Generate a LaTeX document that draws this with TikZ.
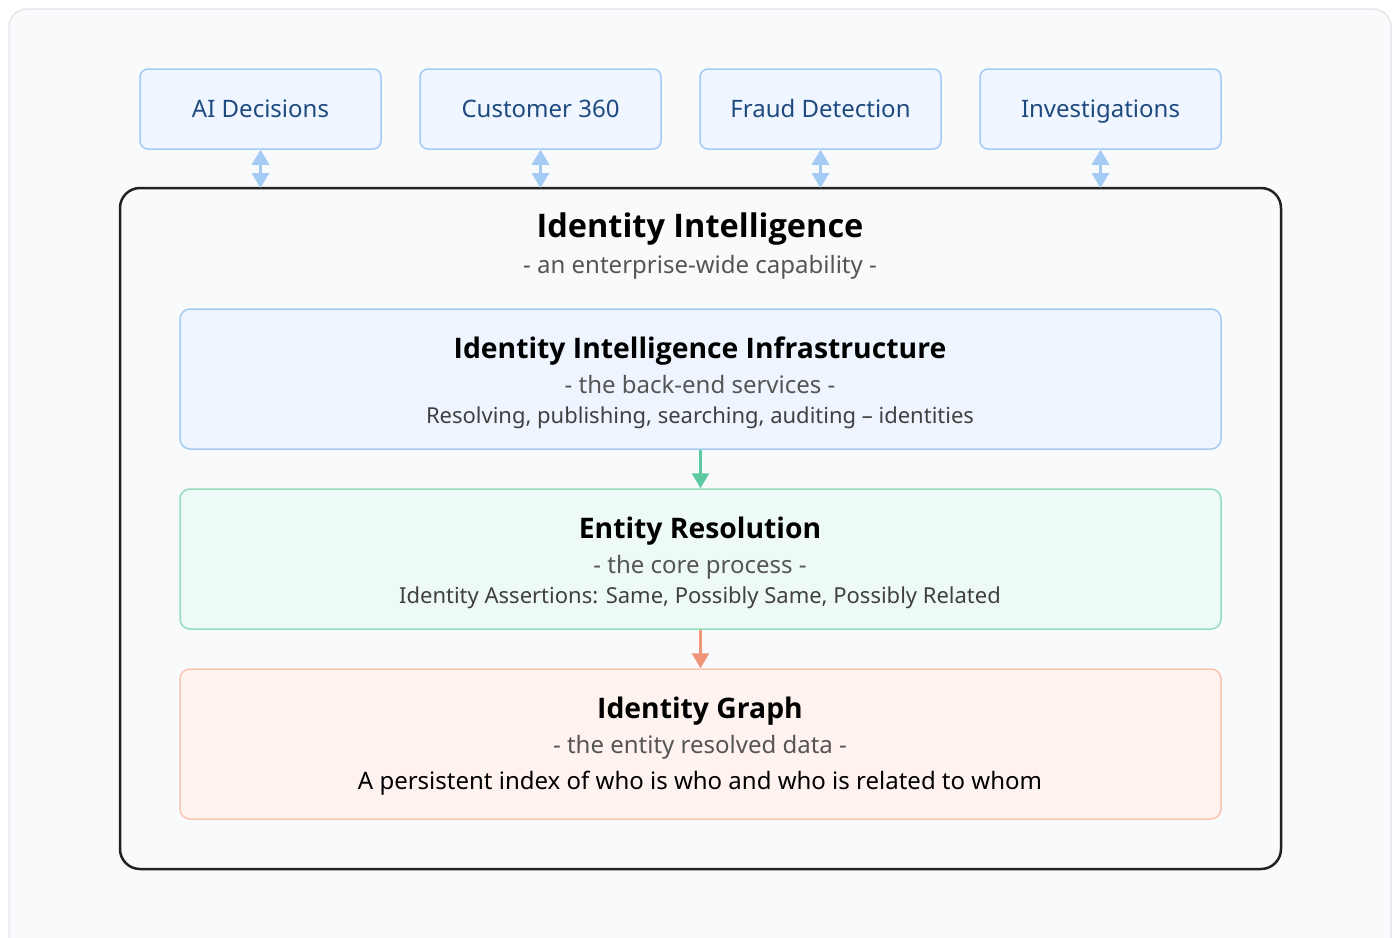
\documentclass[tikz,border=0pt]{standalone}
\usepackage{fontspec}
\setmainfont{Noto Sans}
\newfontfamily\titlefam{Open Sans}
\usetikzlibrary{arrows.meta}
\definecolor{bgfill}{HTML}{F8FAFC}
\definecolor{bgline}{HTML}{E5E7EB}
\definecolor{topfill}{HTML}{EFF6FF}
\definecolor{topline}{HTML}{A3CBF3}
\definecolor{toptext}{HTML}{1E4A80}
\definecolor{blfill}{HTML}{EEF5FE}
\definecolor{blline}{HTML}{A6CAF0}
\definecolor{grfill}{HTML}{EEFAF5}
\definecolor{grline}{HTML}{93DDBB}
\definecolor{orfill}{HTML}{FEF3EF}
\definecolor{orline}{HTML}{F8C5B2}
\definecolor{barrow}{HTML}{A3CBF3}
\definecolor{garrow}{HTML}{5CC9A0}
\definecolor{oarrow}{HTML}{F0957A}
\definecolor{subgray}{HTML}{555555}
\definecolor{mainline}{HTML}{222222}
\tikzset{
  topbox/.style={draw=topline, fill=topfill, line width=1.5pt, rounded corners=8pt,
    minimum width=241pt, minimum height=80pt, inner sep=0pt},
  toplabel/.style={anchor=base, text=toptext, font=\fontsize{24}{28}\selectfont, inner sep=0pt},
  layer/.style={line width=1.5pt, rounded corners=10pt, minimum width=1041pt, inner sep=0pt},
  ttl/.style={anchor=base, font=\titlefam\bfseries\fontsize{28.3}{33}\selectfont, text=black, inner sep=0pt},
  sub/.style={anchor=base, font=\fontsize{24}{28}\selectfont, text=subgray, inner sep=0pt},
  det/.style={anchor=base, font=\fontsize{22}{26}\selectfont, text=black!75, inner sep=0pt},
  dbl/.style={barrow, line width=3pt, {Triangle[width=17pt,length=15pt]}-{Triangle[width=17pt,length=15pt]}},
  down/.style={line width=2.5pt, -{Triangle[width=17pt,length=15pt]}}
}
\begin{document}
\begin{tikzpicture}[x=1pt,y=-1pt]
\useasboundingbox (0,0) rectangle (1397,937);
\clip (0,0) rectangle (1397,937);
\fill[white] (0,0) rectangle (1397,937);
\draw[bgline, fill=bgfill, line width=1.5pt, rounded corners=18pt] (9,9) rectangle (1391,955);

% main container
\draw[mainline, fill=bgfill, line width=2.5pt, rounded corners=20pt] (120,188) rectangle (1281,869);
\node[anchor=base, font=\titlefam\bfseries\fontsize{32.5}{38}\selectfont, inner sep=0pt] (mtitle) at (700,237.5) {Identity Intelligence};
\node[sub] (msub) at (700,273) {- an enterprise-wide capability -};

% top boxes
\node[topbox] (ai) at (260.5,109) {};
\node[topbox] (c360) at (540.5,109) {};
\node[topbox] (fraud) at (820.5,109) {};
\node[topbox] (inv) at (1100.5,109) {};
\node[toplabel] at (260.5,117) {AI Decisions};
\node[toplabel] at (540.5,117) {Customer 360};
\node[toplabel] at (820.5,117) {Fraud Detection};
\node[toplabel] at (1100.5,117) {Investigations};
\coordinate (aiB) at (260.5,188);
\coordinate (c360B) at (540.5,188);
\coordinate (fraudB) at (820.5,188);
\coordinate (invB) at (1100.5,188);
\draw[dbl] (ai.south) -- (aiB);
\draw[dbl] (c360.south) -- (c360B);
\draw[dbl] (fraud.south) -- (fraudB);
\draw[dbl] (inv.south) -- (invB);

% layers
\node[layer, draw=blline, fill=blfill, minimum height=140pt] (infra) at (700.5,379) {};
\node[ttl] at (700,358.5) {Identity Intelligence Infrastructure};
\node[sub] at (700,393) {- the back-end services -};
\node[det] at (700,423.5) {Resolving, publishing, searching, auditing – identities};

\node[layer, draw=grline, fill=grfill, minimum height=140pt] (er) at (700.5,559) {};
\node[ttl] at (700,538.5) {Entity Resolution};
\node[sub] at (700,573) {- the core process -};
\node[det] at (700,603.5) {Identity Assertions: Same, Possibly Same, Possibly Related};

\node[layer, draw=orline, fill=orfill, minimum height=150pt] (graph) at (700.5,744) {};
\node[ttl] at (700,718.5) {Identity Graph};
\node[sub] at (700,753) {- the entity resolved data -};
\node[anchor=base, font=\fontsize{24}{28}\selectfont, text=black, inner sep=0pt] at (700,789) {A persistent index of who is who and who is related to whom};

\draw[down, garrow] (infra.south) -- (er.north);
\draw[down, oarrow] (er.south) -- (graph.north);
\end{tikzpicture}
\end{document}
